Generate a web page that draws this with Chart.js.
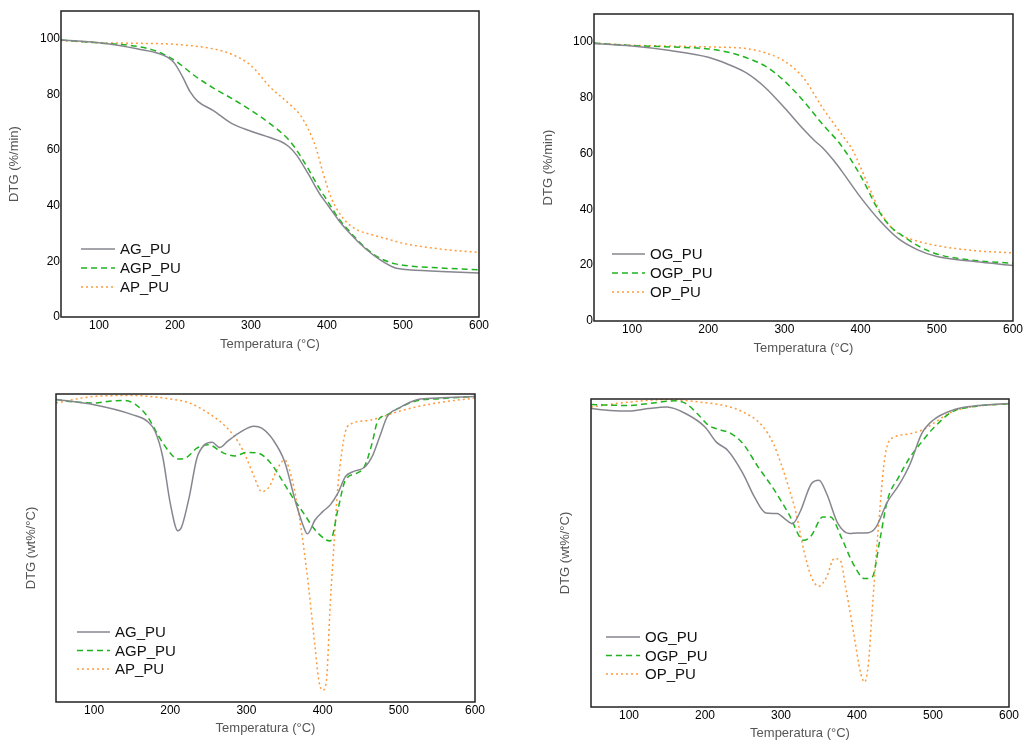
<!DOCTYPE html>
<html>
<head>
<meta charset="utf-8">
<title>TGA / DTG</title>
<script src="https://cdn.jsdelivr.net/npm/chart.js@4.4.1/dist/chart.umd.min.js"></script>
<style>
  html, body { margin: 0; padding: 0; background: #fff; }
  #wrap { position: relative; width: 1024px; height: 741px; overflow: hidden; }
  .panel { position: absolute; }
</style>
</head>
<body>
<div id="wrap">
  <div class="panel" style="left:0;top:0"><canvas id="c1" width="512" height="370"></canvas></div>
  <div class="panel" style="left:512px;top:0"><canvas id="c2" width="512" height="370"></canvas></div>
  <div class="panel" style="left:0;top:370px"><canvas id="c3" width="512" height="371"></canvas></div>
  <div class="panel" style="left:512px;top:370px"><canvas id="c4" width="512" height="371"></canvas></div>
</div>
<script>
// ---- TGA, A series (mass %)
const agTgaT = [50, 100, 150, 190, 200, 210, 220, 230, 250, 275, 300, 325, 340, 350, 360, 375, 390, 400, 415, 430, 450, 470, 490, 500, 550, 600];
const agTgaY = [99.6, 98.6, 96.4, 93.4, 91, 86.3, 80.9, 77.5, 74.3, 69.5, 66.8, 64.5, 63, 61.2, 58.2, 51.6, 44.4, 40.6, 34.9, 30.1, 24.7, 20.5, 17.6, 17.2, 16.4, 15.8];
const agpTgaT = [50, 100, 150, 175, 200, 225, 250, 275, 300, 325, 350, 360, 375, 390, 400, 415, 430, 450, 470, 490, 500, 550, 600];
const agpTgaY = [99.6, 98.5, 97.3, 95.6, 92.2, 86.9, 82.4, 78.5, 74.3, 69.5, 63.6, 60, 53.4, 46.2, 42, 35.5, 30.7, 25, 21.1, 19.1, 18.6, 17.6, 17];
const apTgaT = [50, 100, 150, 200, 250, 275, 300, 325, 350, 365, 375, 385, 395, 405, 415, 425, 440, 460, 480, 500, 550, 600];
const apTgaY = [99.4, 98.6, 98.4, 98, 96.4, 94.4, 90.4, 82.7, 76.7, 72.5, 67.7, 61.2, 51.6, 43.2, 37.9, 34.3, 31.3, 29.5, 28, 26.5, 24.4, 23.2];

// ---- TGA, O series (top-right panel)
const ogTgaT = [50, 100, 150, 200, 225, 250, 275, 300, 325, 340, 350, 365, 375, 400, 425, 450, 475, 500, 550, 600];
const ogTgaY = [99.4, 98.5, 96.9, 94.5, 92.1, 88.9, 83.6, 76.4, 68.7, 64.5, 62.1, 57.4, 53.8, 44.3, 36, 29.4, 25.5, 23.1, 21.3, 19.9];
const ogpTgaT = [50, 100, 150, 200, 225, 250, 275, 300, 325, 350, 375, 400, 425, 440, 450, 475, 500, 550, 600];
const ogpTgaY = [99.6, 98.7, 98.2, 97.5, 96.4, 94.3, 91.3, 86, 78.8, 70.5, 62.7, 52, 38.9, 33.6, 31.5, 27, 24, 21.7, 20.7];
const opTgaT = [50, 100, 150, 200, 250, 275, 300, 325, 350, 375, 390, 400, 415, 425, 440, 450, 475, 500, 550, 600];
const opTgaY = [99.6, 98.8, 98.5, 98.2, 97.6, 96.1, 93.1, 87.1, 76.4, 66.9, 61, 55, 45.5, 39.5, 33.6, 31.2, 28.6, 27, 25.2, 24.4];

// ---- DTG, A series (arbitrary units, 0 = frame bottom, 100 = frame top)
const agDtgT = [50, 100, 150, 170, 180, 190, 200, 210, 215, 225, 235, 245, 255, 265, 275, 290, 310, 320, 335, 350, 365, 375, 380, 390, 400, 410, 420, 430, 440, 455, 465, 475, 485, 500, 525, 550, 600];
const agDtgY = [98.2, 96.5, 93.3, 91.1, 87.9, 79.7, 64.5, 55.6, 56.9, 66.7, 79.2, 83.5, 84.3, 82.6, 84.6, 87.3, 89.5, 88.9, 85.1, 78.1, 64.5, 56.9, 54.6, 59.1, 61.8, 64, 67.8, 73.2, 74.8, 76.2, 79.7, 86.2, 92.7, 95.4, 98.2, 98.7, 99.2];
const agpDtgT = [50, 75, 100, 125, 140, 155, 170, 185, 200, 210, 220, 235, 250, 270, 285, 300, 315, 330, 345, 360, 375, 390, 405, 410, 420, 430, 445, 455, 465, 472, 485, 500, 525, 550, 600];
const agpDtgY = [98.2, 97.4, 97.1, 97.8, 97.9, 96.5, 92.7, 86.2, 80.8, 78.9, 79.2, 82.4, 83.5, 80.8, 79.9, 81, 80.8, 78.1, 72.7, 66.7, 61.3, 55.9, 52.6, 52.3, 62.4, 72.1, 74.3, 76.5, 84.1, 91.1, 93.3, 95.4, 97.9, 98.4, 99.2];
const apDtgT = [50, 100, 150, 200, 225, 250, 275, 290, 300, 310, 320, 330, 340, 350, 360, 370, 380, 390, 395, 400, 405, 410, 415, 420, 425, 430, 440, 460, 480, 500, 550, 600];
const apDtgY = [97.1, 99.2, 99.5, 98.4, 97.1, 93.8, 88.9, 84.1, 79.2, 73.2, 68.3, 69.9, 75.4, 78.6, 72.1, 59.1, 40.7, 17.9, 7, 3.8, 7, 32, 51.5, 70, 80.8, 87.9, 90.6, 91.4, 92.7, 94.4, 97.1, 98.7];

// ---- DTG, O series
const ogDtgT = [50, 75, 100, 125, 150, 175, 200, 215, 230, 250, 265, 280, 295, 305, 315, 325, 340, 350, 360, 375, 390, 400, 415, 425, 440, 455, 470, 485, 500, 525, 550, 600];
const ogDtgY = [96.9, 96.3, 96.1, 96.9, 97.4, 95.2, 90.9, 86, 83.3, 75.8, 68.2, 63, 62.8, 61.1, 59.5, 63.3, 72.5, 73.6, 69.3, 59.5, 56.3, 56.5, 56.6, 58.4, 66.6, 72, 79, 88.7, 93.1, 96.3, 97.6, 98.5];
const ogpDtgT = [50, 100, 125, 160, 175, 190, 205, 220, 235, 250, 270, 290, 310, 330, 340, 355, 365, 380, 395, 410, 420, 430, 440, 455, 470, 485, 500, 525, 550, 600];
const ogpDtgY = [98.2, 97.9, 98.5, 99.4, 98.5, 95.2, 91.4, 90, 88.7, 85.5, 77.9, 70.9, 62.8, 54.1, 55.7, 61.7, 61.7, 54.7, 46.5, 41.7, 42.2, 54.1, 67.1, 74.7, 81.2, 86, 90.4, 95.8, 97.4, 98.5];
const opDtgT = [50, 100, 150, 200, 225, 250, 275, 290, 300, 310, 320, 330, 340, 350, 360, 370, 378, 385, 395, 405, 410, 415, 420, 425, 430, 435, 440, 450, 470, 490, 500, 525, 550, 600];
const opDtgY = [97.4, 99, 99.8, 98.8, 97.9, 95.8, 91.4, 85.5, 79, 71.4, 62.8, 50.9, 42.2, 39.2, 42.2, 48.2, 47.6, 39, 24.9, 10.8, 8.1, 14.1, 31.4, 48.7, 63.9, 77.9, 85, 87.7, 88.7, 90.4, 92, 95.8, 97.4, 98.5];

const tempTicks = [100, 200, 300, 400, 500, 600];
const massTicks = [0, 20, 40, 60, 80, 100];

const GRAY = { color: '#86868f', dash: [] };
const GREEN = { color: '#1fb41f', dash: [6, 4] };
const ORANGE = { color: '#ff9a3a', dash: [2, 3] };

const FONT = '"Liberation Sans", Arial, sans-serif';

function series(label, xs, ys, style) {
  return {
    label,
    data: xs.map((x, i) => ({ x, y: ys[i] })),
    borderColor: style.color,
    borderDash: style.dash,
    borderWidth: 1.5,
    pointRadius: 0,
    fill: false,
    cubicInterpolationMode: 'monotone',
  };
}

// black frame round the plot area
const frame = {
  id: 'frame',
  afterDatasetsDraw(chart) {
    const { ctx, chartArea: a } = chart;
    ctx.save();
    ctx.strokeStyle = '#222';
    ctx.lineWidth = 1.5;
    ctx.strokeRect(a.left, a.top, a.right - a.left, a.bottom - a.top);
    ctx.restore();
  },
};

// legend drawn inside the plot, lower left
const boxLegend = {
  id: 'boxLegend',
  afterDatasetsDraw(chart, args, opts) {
    const { ctx, chartArea } = chart;
    chart.data.datasets.forEach((ds, i) => {
      const x = chartArea.left + opts.left;
      const y = chartArea.top + opts.top + i * opts.gap;
      ctx.save();
      ctx.strokeStyle = ds.borderColor;
      ctx.lineWidth = ds.borderWidth;
      ctx.setLineDash(ds.borderDash);
      ctx.beginPath();
      ctx.moveTo(x, y);
      ctx.lineTo(x + opts.lineLength, y);
      ctx.stroke();
      ctx.setLineDash([]);
      ctx.fillStyle = '#111';
      ctx.font = '15px ' + FONT;
      ctx.textBaseline = 'middle';
      ctx.fillText(ds.label, x + opts.lineLength + 5, y + 1);
      ctx.restore();
    });
  },
};

function makeChart(id, datasets, cfg) {
  return new Chart(document.getElementById(id), {
    type: 'line',
    data: { datasets },
    plugins: [frame, boxLegend],
    options: {
      responsive: false,
      animation: false,
      layout: { padding: { top: cfg.top, right: cfg.right, left: 0, bottom: 0 } },
      plugins: {
        legend: { display: false },
        tooltip: { enabled: false },
        boxLegend: cfg.legend,
      },
      scales: {
        x: {
          type: 'linear',
          min: 50,
          max: 600,
          afterBuildTicks: (s) => { s.ticks = tempTicks.map((v) => ({ value: v })); },
          afterFit: (s) => { s.height = cfg.xHeight; },
          grid: { display: false, drawTicks: false },
          border: { display: false },
          ticks: { padding: 1, color: '#000', font: { family: FONT, size: 12 }, maxRotation: 0, autoSkip: false },
          title: {
            display: true,
            text: 'Temperatura (°C)',
            color: '#555',
            font: { family: FONT, size: 13 },
            padding: { top: 0, bottom: cfg.xTitlePad },
          },
        },
        y: {
          type: 'linear',
          min: 0,
          max: cfg.yMax,
          afterBuildTicks: (s) => { s.ticks = massTicks.map((v) => ({ value: v })); },
          afterFit: (s) => { s.width = cfg.yWidth; },
          grid: { display: false, drawTicks: false },
          border: { display: false },
          ticks: { display: cfg.yTicks, padding: 1, color: '#000', font: { family: FONT, size: 12 } },
          title: {
            display: true,
            text: cfg.yTitle,
            color: '#555',
            font: { family: FONT, size: 13 },
            padding: { top: cfg.yTitlePad, bottom: 0 },
          },
        },
      },
    },
  });
}

makeChart('c1', [
  series('AG_PU', agTgaT, agTgaY, GRAY),
  series('AGP_PU', agpTgaT, agpTgaY, GREEN),
  series('AP_PU', apTgaT, apTgaY, ORANGE),
], {
  top: 11, right: 33, yWidth: 61, xHeight: 53, yMax: 110, yTicks: true,
  yTitle: 'DTG (%/min)', yTitlePad: 7, xTitlePad: 18,
  legend: { left: 20, top: 238, gap: 19, lineLength: 34 },
});

makeChart('c2', [
  series('OG_PU', ogTgaT, ogTgaY, GRAY),
  series('OGP_PU', ogpTgaT, ogpTgaY, GREEN),
  series('OP_PU', opTgaT, opTgaY, ORANGE),
], {
  top: 14, right: 11, yWidth: 82, xHeight: 49, yMax: 110, yTicks: true,
  yTitle: 'DTG (%/min)', yTitlePad: 29, xTitlePad: 14,
  legend: { left: 18, top: 240, gap: 19, lineLength: 33 },
});

makeChart('c3', [
  series('AG_PU', agDtgT, agDtgY, GRAY),
  series('AGP_PU', agpDtgT, agpDtgY, GREEN),
  series('AP_PU', apDtgT, apDtgY, ORANGE),
], {
  top: 24, right: 37, yWidth: 56, xHeight: 39, yMax: 100, yTicks: false,
  yTitle: 'DTG (wt%/°C)', yTitlePad: 24, xTitlePad: 5,
  legend: { left: 21, top: 238, gap: 18.5, lineLength: 33 },
});

makeChart('c4', [
  series('OG_PU', ogDtgT, ogDtgY, GRAY),
  series('OGP_PU', ogpDtgT, ogpDtgY, GREEN),
  series('OP_PU', opDtgT, opDtgY, ORANGE),
], {
  top: 29, right: 15, yWidth: 79, xHeight: 34, yMax: 100, yTicks: false,
  yTitle: 'DTG (wt%/°C)', yTitlePad: 46, xTitlePad: 0,
  legend: { left: 15, top: 238, gap: 18.5, lineLength: 34 },
});
</script>
</body>
</html>
